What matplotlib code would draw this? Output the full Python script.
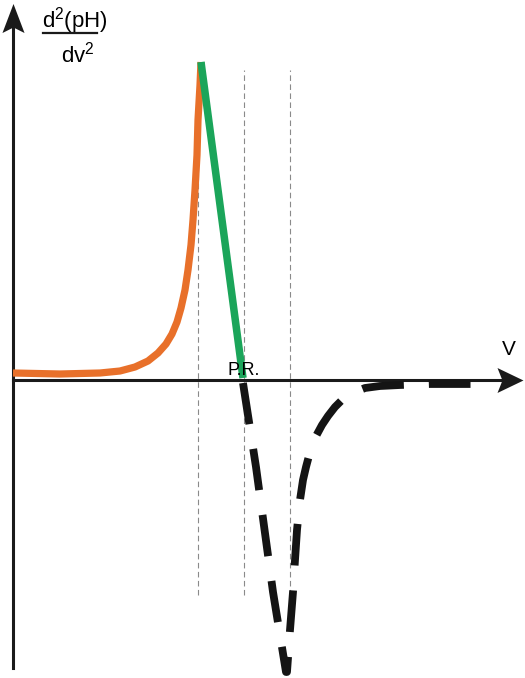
import numpy as np
import matplotlib
matplotlib.use('Agg')
import matplotlib.pyplot as plt
from matplotlib.path import Path

plt.rcParams['font.family'] = ['Liberation Sans', 'DejaVu Sans']
plt.rcParams['mathtext.fontset'] = 'custom'
plt.rcParams['mathtext.rm'] = 'Liberation Sans'
plt.rcParams['lines.scale_dashes'] = False

## __DATA__________________________
# orange: rising part before the peak
orange_x = [0, 47, 87, 107, 122, 135, 145, 153, 159, 164, 168, 172, 175, 178, 180, 182, 184, 185, 187, 188]
orange_y = [7, 6, 7, 9, 13, 19, 27, 36, 46, 58, 72, 90, 110, 135, 160, 190, 225, 260, 295, 318]
# green: straight drop from peak to the zero crossing (P.R.)
green_x = [188, 230]
green_y = [318, 2]
# black dashed: negative peak after P.R.
black_x = [230, 243, 260, 273, 274, 277, 280, 282, 284, 287, 290, 293, 297, 302, 309, 315,
           322, 328, 334, 342, 352, 367, 387, 417, 459]
black_y = [-3, -87, -212, -292, -292, -250, -212, -180, -150, -120, -100, -87, -72, -58, -45, -36,
           -27, -21, -16, -12, -8, -6, -5, -4, -4]
# thin guide lines
guide_x = [185, 231, 277]
guide_top, guide_bottom = 310, -215

## __PLOT__________________________
fig = plt.figure(figsize=(5.25, 6.78), dpi=100)
ax = fig.add_axes([0, 0, 1, 1])
ax.set_xlim(-13, 512)
ax.set_ylim(-298, 380)
ax.axis('off')

for gx in guide_x:
    ax.plot([gx, gx], [guide_bottom, guide_top], color='#8a8a8a', lw=0.8,
            dashes=(4, 2.5), zorder=1)

# axes with notched arrow heads
head_up = Path([(0, 1), (0.76, -1), (0, -0.62), (-0.76, -1), (0, 1)],
               [Path.MOVETO, Path.LINETO, Path.LINETO, Path.LINETO, Path.CLOSEPOLY])
head_right = Path([(1, 0), (-1, 0.96), (-0.62, 0), (-1, -0.96), (1, 0)],
                  [Path.MOVETO, Path.LINETO, Path.LINETO, Path.LINETO, Path.CLOSEPOLY])
ax.plot([0, 0], [-288, 355], color='#1a1a1a', lw=2.2, zorder=2)
ax.plot([0, 490], [0, 0], color='#1a1a1a', lw=2.2, zorder=2)
ax.plot([0], [362.5], marker=head_up, ms=20.9, color='#1a1a1a', mew=0, zorder=3)
ax.plot([497], [0], marker=head_right, ms=18.7, color='#1a1a1a', mew=0, zorder=3)

ax.plot(orange_x, orange_y, color='#e8702a', lw=5.2, solid_capstyle='butt', zorder=4)
ax.plot(green_x, green_y, color='#1ba55a', lw=5.4, solid_capstyle='butt', zorder=5)
ax.plot(black_x, black_y, color='#141414', lw=5.6, dashes=(30, 18),
        dash_capstyle='butt', zorder=4)

## __TEXT__________________________
ax.text(230.5, 5, 'P.R.', fontsize=13, ha='center', va='baseline', zorder=6)
ax.text(496, 25, 'V', fontsize=15, ha='center', va='baseline')
ax.text(62, 352, r'd$^{\mathrm{2}}$(pH)', fontsize=16, ha='center', va='baseline')
ax.plot([30, 84], [347, 347], color='#1a1a1a', lw=1.6)
ax.text(65, 318, r'dv$^{\mathrm{2}}$', fontsize=16, ha='center', va='baseline')

fig.savefig('out.png', dpi=100)
